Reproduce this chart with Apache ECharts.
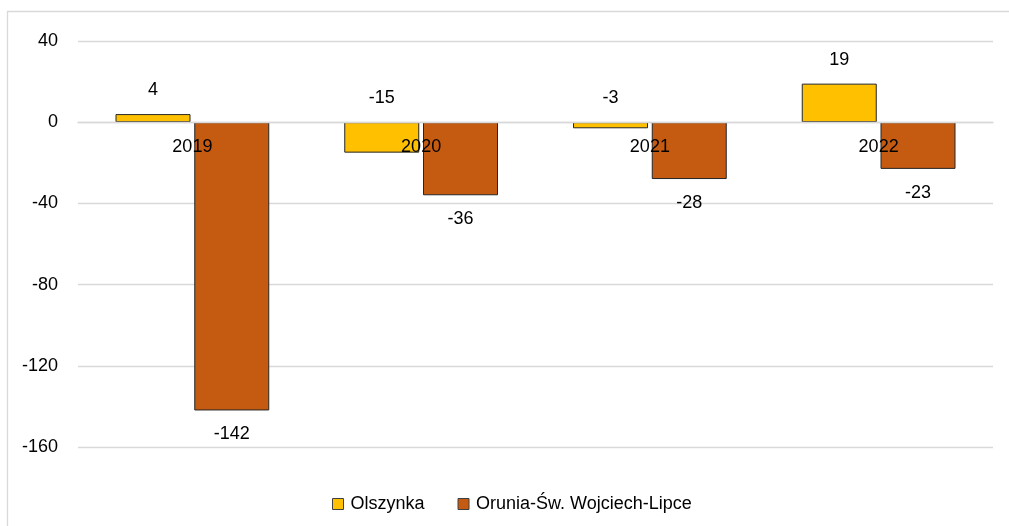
<!DOCTYPE html>
<html><head><meta charset="utf-8">
<script src="https://cdn.jsdelivr.net/npm/echarts@6/dist/echarts.min.js"></script>
<style>html,body{margin:0;padding:0;background:#fff}#c{width:1009px;height:526px}</style>
</head><body><div id="c"></div>
<script>
const categories = ['2019', '2020', '2021', '2022'];
const olszynka = [4, -15, -3, 19];
const orunia = [-142, -36, -28, -23];
const seriesNames = ['Olszynka', 'Orunia-Św. Wojciech-Lipce'];
const yMin = -160, yMax = 40, yStep = 40;

const FONT = "'Liberation Sans', Arial, sans-serif";
const FS = 18;
const chart = echarts.init(document.getElementById('c'), null, {renderer: 'canvas'});
chart.setOption({
  animation: false,
  backgroundColor: '#fff',
  textStyle: {fontFamily: FONT, color: '#000'},
  graphic: [{
    type: 'rect', silent: true, z: -10,
    shape: {x: 7.5, y: 11.5, width: 1100, height: 600},
    style: {fill: 'none', stroke: '#d9d9d9', lineWidth: 1.3}
  }],
  grid: {left: 78, right: 16, top: 41, bottom: 79, containLabel: false},
  legend: {
    left: 327, top: 490,
    itemWidth: 11, itemHeight: 11, itemGap: 33,
    icon: 'rect',
    textStyle: {fontFamily: FONT, fontSize: FS, color: '#000', padding: [0, 0, 0, 2]},
    itemStyle: {borderColor: '#404040', borderWidth: 1},
    data: seriesNames
  },
  xAxis: {
    type: 'category', data: categories, z: 5,
    axisLine: {show: true, onZero: true, lineStyle: {color: '#d9d9d9', width: 1.3}},
    axisTick: {show: false},
    axisLabel: {fontFamily: FONT, fontSize: FS, color: '#000', margin: 16},
    splitLine: {show: false}
  },
  yAxis: {
    type: 'value', min: yMin, max: yMax, interval: yStep,
    axisLine: {show: false}, axisTick: {show: false},
    axisLabel: {fontFamily: FONT, fontSize: FS, color: '#000', margin: 20},
    splitLine: {lineStyle: {color: '#d9d9d9', width: 1.3}}
  },
  series: [{
    name: seriesNames[0], type: 'bar', data: olszynka,
    barWidth: 75, barGap: '5%',
    itemStyle: {color: '#FFC000', borderColor: '#262626', borderWidth: 1},
    label: {show: true, position: 'top', distance: 15, fontFamily: FONT, fontSize: FS, color: '#000'}
  }, {
    name: seriesNames[1], type: 'bar', data: orunia,
    barWidth: 75, barGap: '5%',
    itemStyle: {color: '#C55A11', borderColor: '#262626', borderWidth: 1},
    label: {show: true, position: 'bottom', distance: 15, fontFamily: FONT, fontSize: FS, color: '#000'}
  }]
});
// place the category axis at value 0 using the chart's own y scale
const yZero = chart.convertToPixel({yAxisIndex: 0}, 0);
const yBottom = chart.convertToPixel({yAxisIndex: 0}, yMin);
chart.setOption({xAxis: {axisLine: {onZero: false}, offset: -(yBottom - yZero)}});
</script></body></html>
